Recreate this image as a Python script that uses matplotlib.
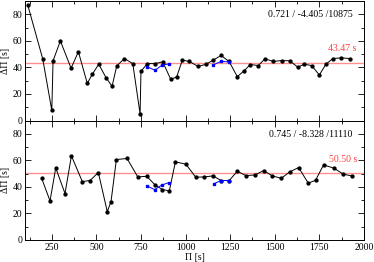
import numpy as np
import matplotlib
matplotlib.use("Agg")
import matplotlib.pyplot as plt
from matplotlib.ticker import MultipleLocator

plt.rcParams['font.family'] = ['Liberation Serif', 'DejaVu Serif']
plt.rcParams['font.size'] = 7

# top panel
top_x = [115, 199, 250, 257, 298, 358, 399, 449, 477, 513, 554, 588, 614, 657, 704,
         745, 750, 786, 829, 872, 917, 950, 982, 1021, 1071, 1115, 1155, 1199, 1244,
         1290, 1328, 1363, 1408, 1445, 1492, 1539, 1584, 1629, 1666, 1707, 1750,
         1787, 1826, 1873, 1920]
top_y = [87, 46.5, 7.6, 45, 60, 39.4, 51.8, 28, 34.8, 42.4, 32.3, 25.8, 41.1, 46.7,
         42.9, 5, 37.1, 42.9, 42.9, 44.2, 31, 32.8, 45.5, 44.5, 40.7, 42.4, 45.5, 49,
         44.5, 33.1, 37.4, 42.2, 41.4, 46.5, 44.5, 45.2, 45, 40.2, 42.4, 41.4, 34.3,
         42.4, 46.7, 47.2, 46.7]
top_blue1_x = [786, 829, 868, 909]
top_blue1_y = [40.4, 37.9, 41.7, 42.7]
top_blue2_x = [1155, 1199, 1244]
top_blue2_y = [41.9, 44.5, 44.2]
top_mean = 43.47
top_note = "0.721 / -4.405 /10875"

# bottom panel
bot_x = [193, 240, 272, 324, 360, 421, 464, 511, 561, 582, 612, 672, 732, 782, 829,
         870, 909, 943, 1002, 1057, 1105, 1154, 1199, 1245, 1290, 1339, 1389, 1438,
         1486, 1537, 1584, 1634, 1688, 1729, 1774, 1832, 1884, 1931]
bot_y = [46.5, 29.4, 54.3, 35, 63.4, 44, 44.8, 50.8, 21.4, 28.9, 60.6, 61.4, 47.5,
         48, 41.5, 38, 37, 58.9, 57.1, 47.3, 47.5, 48.3, 44.8, 44.8, 51.8, 48.5, 49,
         52.3, 48.3, 46.5, 51.3, 54.6, 42.8, 45, 56.6, 54.1, 49.6, 48.3]
bot_blue1_x = [786, 827, 868, 907]
bot_blue1_y = [40.5, 38, 41.5, 43.2]
bot_blue2_x = [1158, 1199, 1245]
bot_blue2_y = [42.3, 44.8, 44.8]
bot_mean = 50.50
bot_note = "0.745 / -8.328 /11110"

fig = plt.figure(figsize=(3.74, 2.62), dpi=100)
ax1 = fig.add_axes([0.067, 0.54, 0.906, 0.456])
ax2 = fig.add_axes([0.067, 0.084, 0.906, 0.456])

panels = [
    (ax1, top_x, top_y, [(top_blue1_x, top_blue1_y), (top_blue2_x, top_blue2_y)], top_mean, top_note),
    (ax2, bot_x, bot_y, [(bot_blue1_x, bot_blue1_y), (bot_blue2_x, bot_blue2_y)], bot_mean, bot_note),
]

for ax, xs, ys, blues, mean, note in panels:
    ax.axhline(mean, color='#ff9090', lw=1.0, zorder=1)
    ax.plot(xs, ys, '-o', color='black', lw=0.7, ms=2.1, zorder=3)
    for bx, by in blues:
        ax.plot(bx, by, '-s', color='#0000ff', lw=0.7, ms=1.9, zorder=4)
    ax.set_xlim(100, 2000)
    ax.set_ylim(0, 90)
    ax.xaxis.set_major_locator(MultipleLocator(250))
    ax.xaxis.set_minor_locator(MultipleLocator(125))
    ax.yaxis.set_major_locator(MultipleLocator(20))
    ax.yaxis.set_minor_locator(MultipleLocator(10))
    ax.tick_params(which='both', direction='in', top=True, right=True, width=0.6, pad=2)
    ax.tick_params(which='major', length=4)
    ax.tick_params(which='minor', length=2.5)
    for s in ax.spines.values():
        s.set_linewidth(0.7)
    ax.set_ylabel("ΔΠ [s]", labelpad=2)
    ax.text(1935, 79.5, note, ha='right', va='center')
    ax.text(1960, mean + 10.5, "%.2f s" % mean, ha='right', va='center',
            color='#ff4040')

ax1.tick_params(labelbottom=False)
ax2.set_xlabel("Π [s]", labelpad=1)

fig.savefig("out.png", dpi=100)
